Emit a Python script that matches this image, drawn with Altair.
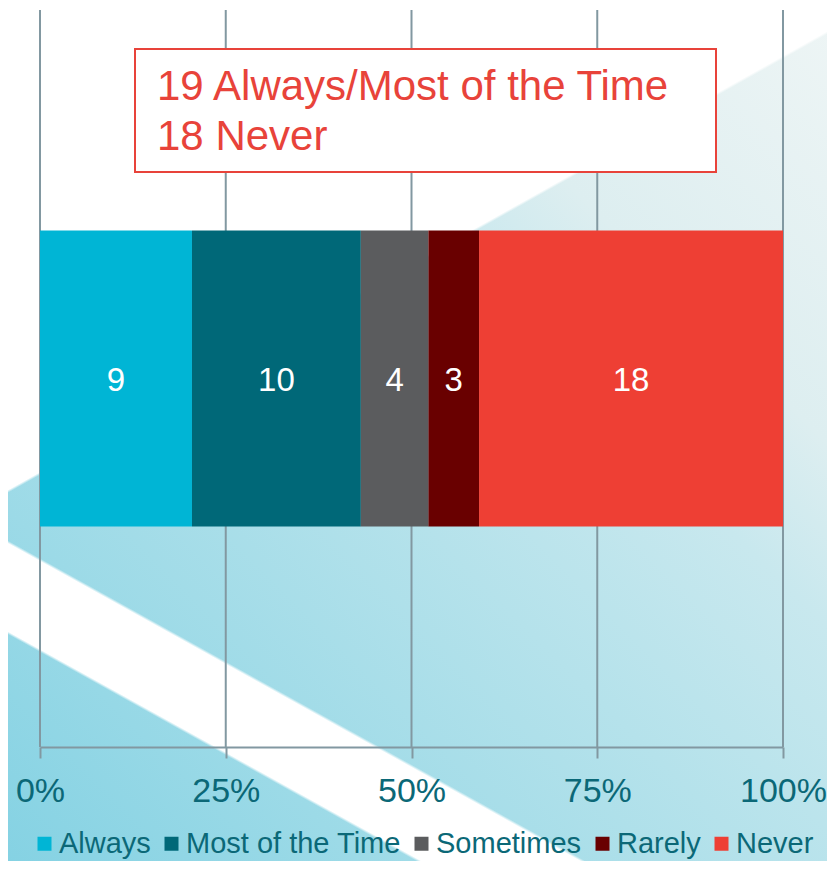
import altair as alt
import pandas as pd

# ---- data ----
categories = ["Always", "Most of the Time", "Sometimes", "Rarely", "Never"]
counts = [9, 10, 4, 3, 18]
colors = ["#00b5d5", "#006878", "#5b5c5e", "#690000", "#ee3f34"]
tick_values = [0, 0.25, 0.5, 0.75, 1.0]
annotation_lines = ["19 Always/Most of the Time", "18 Never"]

# ---- layout / style ----
FONT = "Liberation Sans"
TEAL = "#0b6877"
RED = "#e8433a"
GRID = "#8298a1"
W_PLOT, H_PLOT = 743, 737
PAD = {"left": 32, "top": 2, "right": 44, "bottom": 114}
SVG_W = W_PLOT + PAD["left"] + PAD["right"]
SVG_H = H_PLOT + PAD["top"] + PAD["bottom"]


def lin_grad(nx, ny, stop_specs):
    """Linear gradient over the whole canvas whose iso-lines are
    perpendicular to (nx, ny) in pixel space; stops given by page points."""
    W, H = SVG_W, SVG_H
    x1 = 1.0 if nx < 0 else 0.0
    y1 = 1.0 if ny < 0 else 0.0
    k = (abs(nx) * W + abs(ny) * H) / (nx * nx * W * W + ny * ny * H * H)
    x2 = x1 + nx * W * k
    y2 = y1 + ny * H * k
    denom = abs(nx) * W + abs(ny) * H

    def t(page_x, page_y):
        px, py = page_x - 8, page_y - 8
        v = (nx * (px - x1 * W) + ny * (py - y1 * H)) / denom
        return min(max(v, 0.0), 1.0)

    stops = []
    for spec in stop_specs:
        off = t(*spec[0]) if isinstance(spec[0], tuple) else spec[0]
        stops.append(alt.GradientStop(color=spec[1], offset=off))
    return alt.LinearGradient(gradient="linear", stops=stops, x1=x1, y1=y1, x2=x2, y2=y2)


one = pd.DataFrame({"d": [0]})


def bg_rect(grad):
    return alt.Chart(one).mark_rect(fill=grad, strokeWidth=0).encode(
        x=alt.value(-PAD["left"]), x2=alt.value(W_PLOT + PAD["right"]),
        y=alt.value(-PAD["top"]), y2=alt.value(H_PLOT + PAD["bottom"]),
    )


# soft blue backdrop: pale in the top-right, saturated in the bottom-left
bg_blue = bg_rect(lin_grad(-1.0, 1.0, [
    (0, "#eef5f5"), (0.26, "#ddeef0"), (0.37, "#c8e8ee"),
    (0.55, "#b5e2eb"), (0.79, "#9cdae7"), (1, "#85d2e3")]))

CLEAR = "#ffffff00"
# white area in the upper part of the slide
bg_white_top = bg_rect(lin_grad(0.56, 1.0, [
    (0, "#ffffff"), ((40, 472), "#ffffff"), ((40, 475), CLEAR), (1, CLEAR)]))

# white diagonal stripe in the lower-left
bg_stripe = bg_rect(lin_grad(-0.555, 1.0, [
    (0, CLEAR), ((0, 536), CLEAR), ((0, 539), "#ffffff"),
    ((0, 627), "#ffffff"), ((0, 630), CLEAR), (1, CLEAR)]))

df = pd.DataFrame({"category": categories, "count": counts,
                   "order": list(range(len(categories))), "row": "all"})
ticks_df = pd.DataFrame({"t": tick_values})

x_scale = alt.Scale(domain=[0, 1], nice=False, zero=True)
y_scale = alt.Scale(paddingOuter=0.745, paddingInner=0)

x_axis = alt.Axis(values=tick_values, format="%", grid=False, title=None,
                  domainColor=GRID, domainWidth=2, tickColor=GRID, tickWidth=2,
                  tickSize=11, labelFontSize=34, labelColor=TEAL, labelFont=FONT,
                  labelPadding=16, labelFlush=False, zindex=1)

grid = alt.Chart(ticks_df).mark_rule(color=GRID, strokeWidth=2).encode(
    x=alt.X("t:Q", scale=x_scale, axis=x_axis))

bars = alt.Chart(df).mark_bar(strokeWidth=0).encode(
    x=alt.X("count:Q", stack="normalize", scale=x_scale, axis=x_axis),
    y=alt.Y("row:N", axis=None, scale=y_scale),
    color=alt.Color("category:N", scale=alt.Scale(domain=categories, range=colors),
                    legend=alt.Legend(orient="none", direction="horizontal",
                                      legendX=-10, legendY=819, title=None,
                                      padding=0, symbolType="square",
                                      symbolSize=196, symbolStrokeWidth=0,
                                      labelFontSize=29, labelFont=FONT,
                                      labelColor=TEAL, labelOffset=0,
                                      columnPadding=6, labelLimit=400)),
    order=alt.Order("order:Q"),
)

labels = alt.Chart(df).transform_joinaggregate(
    total="sum(count)"
).transform_window(
    cum="sum(count)", sort=[alt.SortField("order")], frame=[None, 0]
).transform_calculate(
    mid="(datum.cum - datum.count / 2) / datum.total"
).mark_text(color="white", fontSize=33, font=FONT, baseline="middle", dy=2).encode(
    x=alt.X("mid:Q", scale=x_scale, axis=x_axis),
    y=alt.Y("row:N", axis=None, scale=y_scale),
    text="count:Q",
)

box = alt.Chart(one).mark_rect(fill="white", stroke=RED, strokeWidth=2).encode(
    x=alt.value(95), x2=alt.value(676), y=alt.value(39), y2=alt.value(162))

box_text = alt.Chart(one).mark_text(
    text=annotation_lines, lineHeight=50, align="left", baseline="alphabetic",
    fontSize=42, color=RED, font=FONT,
).encode(x=alt.value(117), y=alt.value(90))

chart = alt.layer(
    bg_blue, bg_white_top, bg_stripe, grid, bars, labels, box, box_text
).properties(
    width=W_PLOT, height=H_PLOT, padding=PAD,
    autosize=alt.AutoSizeParams(type="none"), background="white",
).configure_view(strokeWidth=0)

chart.save("out.html", embed_options={"renderer": "svg", "actions": False})
